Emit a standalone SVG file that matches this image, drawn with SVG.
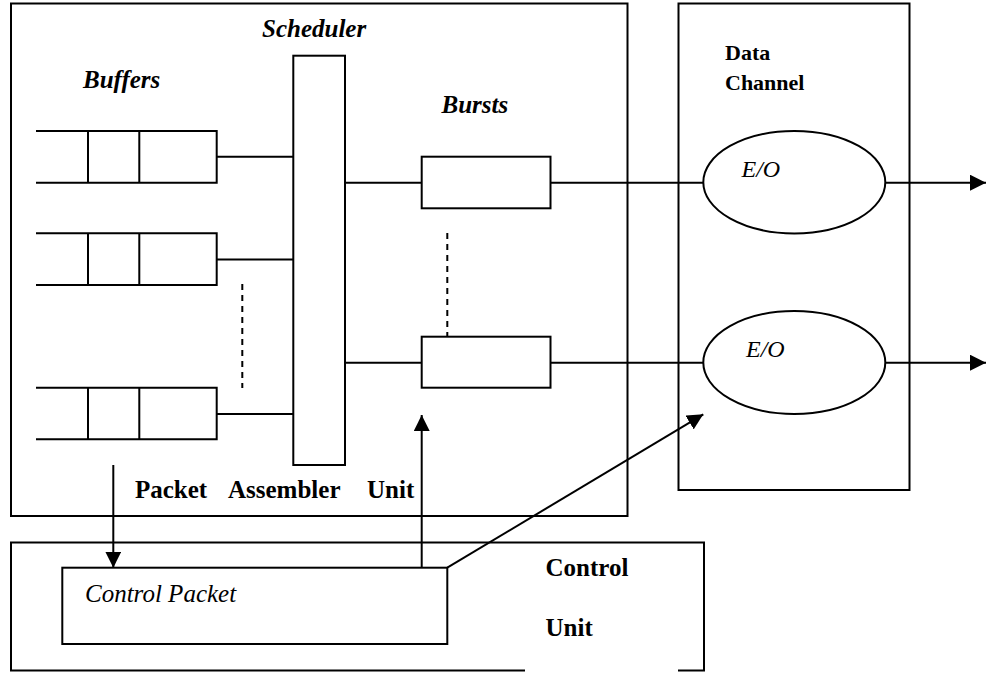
<svg xmlns="http://www.w3.org/2000/svg" width="987" height="675" viewBox="0 0 987 675">
<style>
.ln{fill:none;stroke:#000;stroke-width:2}
.box{fill:#fff;stroke:#000;stroke-width:2}
.dash{fill:none;stroke:#000;stroke-width:2;stroke-dasharray:6,5}
.bi{font-family:"Liberation Serif","Times New Roman",serif;font-weight:bold;font-style:italic;font-size:25px}
.b{font-family:"Liberation Serif","Times New Roman",serif;font-weight:bold;font-size:25px}
.i{font-family:"Liberation Serif","Times New Roman",serif;font-style:italic;font-size:25px}
</style>
<defs>
<marker id="ah" markerUnits="userSpaceOnUse" markerWidth="17" markerHeight="16" refX="16" refY="8" orient="auto">
<path d="M0,0 L16,8 L0,16 Z" fill="#000"/>
</marker>
</defs>
<rect width="987" height="675" fill="#fff"/>

<g id="packet-assembler-unit">
<rect class="ln" x="11" y="3.5" width="616.5" height="512.5"/>
<text class="b" x="135" y="498">Packet</text>
<text class="b" x="228" y="498">Assembler</text>
<text class="b" x="367" y="498">Unit</text>
</g>

<g id="data-channel">
<rect class="ln" x="678.5" y="3.5" width="231" height="486.5"/>
<text class="b" x="725" y="60" style="font-size:22px">Data</text>
<text class="b" x="725" y="89.5" style="font-size:22px">Channel</text>
</g>

<g id="control-unit">
<path class="ln" d="M525,670.5 L11,670.5 L11,542.5 L704,542.5 L704,670.5 L678,670.5"/>
<text class="b" x="545.5" y="576">Control</text>
<text class="b" x="545.5" y="636">Unit</text>
</g>

<g id="buffers">
<text class="bi" x="83" y="88">Buffers</text>
<g id="queue1">
<path class="ln" d="M36,131 H216.7 V182.7 H36 M88,131 V182.7 M139.3,131 V182.7"/>
</g>
<g id="queue2">
<path class="ln" d="M36,233.3 H216.7 V285 H36 M88,233.3 V285 M139.3,233.3 V285"/>
</g>
<g id="queue3">
<path class="ln" d="M36,387.7 H216.7 V439.3 H36 M88,387.7 V439.3 M139.3,387.7 V439.3"/>
</g>
</g>

<g id="scheduler">
<text class="bi" x="262" y="37">Scheduler</text>
<rect class="ln" x="293.3" y="55.7" width="51.7" height="409.3"/>
</g>

<g id="bursts">
<text class="bi" x="441.5" y="113">Bursts</text>
<rect id="burst1" class="ln" x="421.7" y="156.7" width="128.8" height="51.6"/>
<rect id="burst2" class="ln" x="421.7" y="336.7" width="128.8" height="51"/>
</g>

<g id="eo1">
<ellipse class="ln" cx="794.3" cy="182.2" rx="91" ry="51.2"/>
<text class="i" x="741.5" y="176.7" style="font-size:24px">E/O</text>
</g>
<g id="eo2">
<ellipse class="ln" cx="794.3" cy="362.5" rx="91" ry="51.5"/>
<text class="i" x="746" y="357.3" style="font-size:24px">E/O</text>
</g>

<g id="control-packet">
<rect class="ln" x="62.3" y="567.7" width="385" height="76.3"/>
<text class="i" x="85" y="601.7">Control Packet</text>
</g>

<g id="connectors">
<line class="ln" x1="216.7" y1="156.7" x2="293.3" y2="156.7"/>
<line class="ln" x1="216.7" y1="259.5" x2="293.3" y2="259.5"/>
<line class="ln" x1="216.7" y1="414" x2="293.3" y2="414"/>
<line class="dash" x1="242.3" y1="284" x2="242.3" y2="388"/>
<line class="ln" x1="345" y1="182.7" x2="421.7" y2="182.7"/>
<line class="ln" x1="345" y1="362.7" x2="421.7" y2="362.7"/>
<line class="dash" x1="447.3" y1="233" x2="447.3" y2="336.7"/>
<line class="ln" x1="550.5" y1="182.7" x2="703.3" y2="182.7"/>
<line class="ln" x1="550.5" y1="362.7" x2="703.3" y2="362.7"/>
<line class="ln" x1="885.3" y1="182.7" x2="986" y2="182.7" marker-end="url(#ah)"/>
<line class="ln" x1="885.3" y1="362.7" x2="986" y2="362.7" marker-end="url(#ah)"/>
<line class="ln" x1="113.3" y1="465" x2="113.3" y2="567.7" marker-end="url(#ah)"/>
<line class="ln" x1="421.7" y1="567.7" x2="421.7" y2="415" marker-end="url(#ah)"/>
<line class="ln" x1="447.3" y1="567.7" x2="703.3" y2="414.3" marker-end="url(#ah)"/>
</g>
</svg>
